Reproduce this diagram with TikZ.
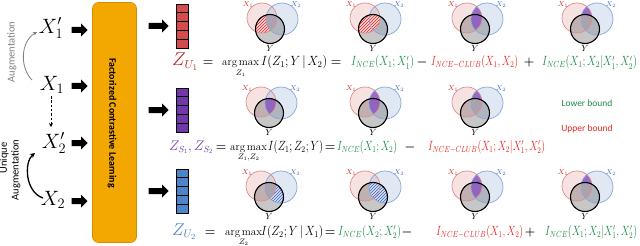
\documentclass[tikz,border=0pt]{standalone}
\usepackage{amsmath}
\usepackage{graphicx}
\usepackage{fontspec}
\setsansfont{Carlito}
\usetikzlibrary{shapes.arrows,patterns,calc,arrows.meta}

\definecolor{orfill}{RGB}{242,168,0}
\definecolor{ordraw}{RGB}{215,140,0}
\definecolor{zred}{RGB}{190,40,40}
\definecolor{zpur}{RGB}{112,58,160}
\definecolor{zblu}{RGB}{80,130,200}
\definecolor{vred}{RGB}{212,76,76}
\definecolor{vpur}{RGB}{112,56,168}
\definecolor{vblu}{RGB}{76,134,200}
\definecolor{eqgreen}{RGB}{30,140,70}
\definecolor{eqred}{RGB}{232,40,36}
\definecolor{xonec}{RGB}{225,140,140}
\definecolor{xtwoc}{RGB}{135,165,215}
\definecolor{shpur}{RGB}{140,90,195}
\definecolor{hred}{RGB}{225,40,40}
\definecolor{hblu}{RGB}{50,100,190}
\definecolor{labred}{RGB}{210,40,40}
\definecolor{labblu}{RGB}{70,110,190}

\tikzset{
 xlab/.style={font=\fontsize{20}{22}\selectfont, inner sep=0pt},
 blockarr/.style={single arrow, fill=black, draw=none, inner sep=2.8pt, minimum height=16pt, single arrow head extend=3.5pt},
 vecbox/.style={draw=black, line width=0.9pt, minimum width=12pt, minimum height=44pt, inner sep=0pt},
 eqz/.style={font=\fontsize{16}{18}\selectfont, inner sep=0pt, anchor=base west},
 eqop/.style={font=\fontsize{13}{15}\selectfont\boldmath, inner sep=0pt, anchor=base},
 eqam/.style={font=\fontsize{11}{12}\selectfont, inner sep=0pt, anchor=base west},
 eqi/.style={font=\fontsize{12}{14}\selectfont, inner sep=0pt, anchor=base west},
 eqr/.style={font=\fontsize{12}{13}\selectfont, inner sep=0pt, anchor=base west},
 redhatch/.style={pattern=north east lines, pattern color=hred},
 bluhatch/.style={pattern=north east lines, pattern color=hblu},
 purfill/.style={fill=shpur, fill opacity=0.85},
 vlab/.style={font=\fontsize{7}{8}\selectfont, inner sep=0pt},
 ylab/.style={font=\fontsize{9.5}{10}\selectfont, inner sep=0pt},
}
\newcommand{\fw}[2]{\resizebox{#1pt}{!}{#2}}
\newcommand{\fh}[2]{\resizebox{#1pt}{10pt}{#2}}
\newcommand{\amx}[1]{$\mathop{\mathrm{arg\,max}}\limits_{#1}$}

% regions (coordinates relative to Y centre)
\newcommand{\rgA}[1]{\begin{scope}\clip (-8,-11) circle[radius=15pt]; \clip (0,0) circle[radius=14.5pt]; \fill[#1, even odd rule] (-40,-40) rectangle (40,40) (12,-10) circle[radius=16pt];\end{scope}}
\newcommand{\rgB}[1]{\begin{scope}\clip (-8,-11) circle[radius=15pt]; \fill[#1] (0,0) circle[radius=14.5pt];\end{scope}}
\newcommand{\rgC}[1]{\begin{scope}\clip (-8,-11) circle[radius=15pt]; \fill[#1] (12,-10) circle[radius=16pt];\end{scope}}
\newcommand{\rgD}[1]{\begin{scope}\clip (-8,-11) circle[radius=15pt]; \clip (12,-10) circle[radius=16pt]; \fill[#1, even odd rule] (-40,-40) rectangle (40,40) (0,0) circle[radius=14.5pt];\end{scope}}
\newcommand{\rgE}[1]{\begin{scope}\clip (-8,-11) circle[radius=15pt]; \clip (0,0) circle[radius=14.5pt]; \fill[#1] (12,-10) circle[radius=16pt];\end{scope}}
\newcommand{\rgF}[1]{\begin{scope}\clip (12,-10) circle[radius=16pt]; \clip (0,0) circle[radius=14.5pt]; \fill[#1, even odd rule] (-40,-40) rectangle (40,40) (-8,-11) circle[radius=15pt];\end{scope}}
\newcommand{\rgG}[1]{\begin{scope}\clip (12,-10) circle[radius=16pt]; \fill[#1] (0,0) circle[radius=14.5pt];\end{scope}}

% venn: #1 name, #2 x, #3 y, #4 shading
\newcommand{\vennd}[4]{%
\begin{scope}[shift={(#2,#3)}]
\fill[xonec, fill opacity=0.25] (-8,-11) circle[radius=15pt];
\fill[xtwoc, fill opacity=0.25] (12,-10) circle[radius=16pt];
\fill[black, fill opacity=0.22] (0,0) circle[radius=14.5pt];
#4
\draw[xonec, line width=0.7pt] (-8,-11) circle[radius=15pt];
\draw[xtwoc, line width=0.7pt] (12,-10) circle[radius=16pt];
\draw[black, line width=1.1pt] (0,0) circle[radius=14.5pt];
\node[vlab, text=labred] (#1-a) at (-22,-24) {$X_1$};
\node[vlab, text=labblu] (#1-b) at (26,-24) {$X_2$};
\node[ylab] (#1-y) at (0,19.5) {$Y$};
\end{scope}}

\newcommand{\vecstripes}[1]{\foreach \k in {1,...,4}{\draw[line width=0.7pt] ($(#1.north west)!\k/5!(#1.south west)$) -- ($(#1.north east)!\k/5!(#1.south east)$);}}

\begin{document}
\begin{tikzpicture}[x=1pt,y=-1pt]
\fill[white] (0,0) rectangle (640,246);
\path[use as bounding box] (0,0) rectangle (640,246);

% left labels
\node[xlab] (x1p) at (51,28) {$X_1'$};
\node[xlab] (x1) at (52,85) {$X_1$};
\node[xlab] (x2p) at (54,143) {$X_2'$};
\node[xlab] (x2) at (53,200) {$X_2$};

\node[rotate=90, text=gray, font=\sffamily\fontsize{10.5}{11}\selectfont, inner sep=0pt] (aug) at (12,52) {Augmentation};
\node[rotate=90, font=\sffamily\fontsize{10.5}{11}\selectfont, inner sep=0pt] (uq) at (4,158) {Unique};
\node[rotate=90, font=\sffamily\fontsize{10.5}{11}\selectfont, inner sep=0pt] (uqa) at (16,170) {Augmentation};

\coordinate (gs) at (32,80);
\coordinate (ge) at (37,32);
\draw[gray, line width=0.8pt, -{Stealth[length=4pt,width=4pt]}] (gs) .. controls (20,68) and (20,42) .. (ge);
\coordinate (bs) at (43,198);
\coordinate (be) at (35,153);
\draw[black, line width=1.3pt, -{Stealth[length=5pt,width=5pt]}] (bs) .. controls (25,192) and (24,162) .. (be);
\coordinate (ds) at (51,96);
\coordinate (de) at (51,127);
\draw[black, line width=0.9pt, dash pattern=on 2.5pt off 1.8pt, -{Stealth[length=4pt,width=4pt]}] (ds) -- (de);

% left block arrows
\node[blockarr] (la1) at (78,30) {};
\node[blockarr] (la2) at (78,86) {};
\node[blockarr] (la3) at (78,143) {};
\node[blockarr] (la4) at (78,201) {};

% orange box
\node[draw=ordraw, fill=orfill, line width=0.6pt, rounded corners=6pt, minimum width=44pt, minimum height=240pt, inner sep=0pt] (fcl) at (114.5,122.5) {};
\node[rotate=-90, font=\sffamily\bfseries\fontsize{10}{11}\selectfont, inner sep=0pt] (fclt) at (112,123) {Factorized Contrastive Learning};

% right block arrows
\node[blockarr, minimum height=20pt] (ra1) at (157,26) {};
\node[blockarr, minimum height=20pt] (ra2) at (157,110) {};
\node[blockarr, minimum height=20pt] (ra3) at (157,191) {};

% vectors
\node[vecbox, fill=vred] (v1) at (182,26) {};
\vecstripes{v1}
\node[vecbox, fill=vpur] (v2) at (182,110) {};
\vecstripes{v2}
\node[vecbox, fill=vblu] (v3) at (182,191) {};
\vecstripes{v3}

% venn row 1
\vennd{r1a}{270}{29}{\rgA{fill=hred!20}\rgA{redhatch}}
\vennd{r1b}{373}{29}{\rgB{fill=hred!20}\rgB{redhatch}}
\vennd{r1c}{475}{29}{\rgC{purfill}}
\vennd{r1d}{585}{29}{\rgD{purfill}}
% venn row 2
\vennd{r2a}{269}{113}{\rgE{purfill}}
\vennd{r2b}{373}{113}{\rgC{purfill}}
\vennd{r2c}{475}{113}{\rgD{purfill}}
% venn row 3
\vennd{r3a}{269}{197}{\rgF{fill=hblu!20}\rgF{bluhatch}}
\vennd{r3b}{373}{197}{\rgG{fill=hblu!20}\rgG{bluhatch}}
\vennd{r3c}{475}{197}{\rgC{purfill}}
\vennd{r3d}{585}{197}{\rgD{purfill}}

% legend
\node[text=eqgreen, font=\sffamily\fontsize{9.5}{11}\selectfont, inner sep=0pt] (lb) at (587,103) {Lower bound};
\node[text=eqred, font=\sffamily\fontsize{9.5}{11}\selectfont, inner sep=0pt] (ub) at (587,129) {Upper bound};

% equation row 1
\node[eqz, text=zred] (z1) at (172,66) {\fw{26}{$Z_{U_1}$}};
\node[eqop] (e1a) at (208,66) {$=$};
\node[eqam] (am1) at (222,66) {\amx{Z_1}};
\node[eqi] (i1) at (261,66) {\fh{66}{$I(Z_1;Y\,|\,X_2)$}};
\node[eqop] (e1b) at (336,66) {$=$};
\node[eqr, text=eqgreen] (g11) at (351,66) {\fh{63}{$I_{NCE}(X_1;X_1')$}};
\node[eqop] (m1) at (422,66) {$-$};
\node[eqr, text=eqred] (r11) at (431,66) {\fh{87}{$I_{NCE-CLUB}(X_1,X_2)$}};
\node[eqop] (p1) at (529,66) {$+$};
\node[eqr, text=eqgreen] (g12) at (542,66) {\fh{95}{$I_{NCE}(X_1;X_2|X_1',X_2')$}};

% equation row 2
\node[eqz, text=zpur] (z2) at (169,150) {\fw{44}{$Z_{S_1},Z_{S_2}$}};
\node[eqop] (e2a) at (221,150) {$=$};
\node[eqam] (am2) at (230,150) {\amx{Z_1,Z_2}};
\node[eqi] (i2) at (268,150) {\fh{55}{$I(Z_1;Z_2;Y)$}};
\node[eqop] (e2b) at (330,150) {$=$};
\node[eqr, text=eqgreen] (g21) at (337,150) {\fh{60}{$I_{NCE}(X_1;X_2)$}};
\node[eqop] (m2) at (410,150) {$-$};
\node[eqr, text=eqred] (r21) at (428,150) {\fh{117}{$I_{NCE-CLUB}(X_1;X_2|X_1',X_2')$}};

% equation row 3
\node[eqz, text=zblu] (z3) at (172,235) {\fw{24}{$Z_{U_2}$}};
\node[eqop] (e3a) at (210,235) {$=$};
\node[eqam] (am3) at (225,235) {\amx{Z_2}};
\node[eqi] (i3) at (261,235) {\fh{62}{$I(Z_2;Y\,|\,X_1)$}};
\node[eqop] (e3b) at (330,235) {$=$};
\node[eqr, text=eqgreen] (g31) at (338,235) {\fh{63}{$I_{NCE}(X_2;X_2')$}};
\node[eqop] (m3) at (407,235) {$-$};
\node[eqr, text=eqred] (r31) at (436,235) {\fh{87}{$I_{NCE-CLUB}(X_1,X_2)$}};
\node[eqop] (p3) at (530,235) {$+$};
\node[eqr, text=eqgreen] (g32) at (545,235) {\fh{92}{$I_{NCE}(X_1;X_2|X_1',X_2')$}};
\end{tikzpicture}
\end{document}
